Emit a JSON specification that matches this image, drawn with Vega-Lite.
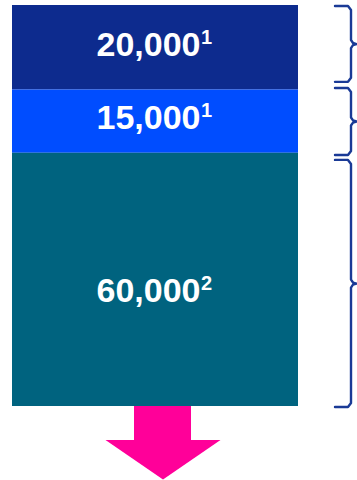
{
  "$schema": "https://vega.github.io/schema/vega-lite/v6.json",
  "width": 357,
  "height": 480,
  "padding": 0,
  "autosize": {"type": "none"},
  "background": "white",
  "config": {"view": {"stroke": null}},
  "datasets": {
    "segments": [
      {"label": "20,000", "note": "1", "part": "a", "start": 75000, "end": 95000, "labelAt": 82900},
      {"label": "15,000", "note": "1", "part": "b", "start": 60000, "end": 75000, "labelAt": 65600},
      {"label": "60,000", "note": "2", "part": "c", "start": 0, "end": 60000, "labelAt": 24600}
    ],
    "braces": [
      {"brace": 1, "i": 1, "x": 335, "y": 94750},
      {"brace": 1, "i": 2, "x": 348, "y": 94750},
      {"brace": 1, "i": 3, "x": 351, "y": 93800},
      {"brace": 1, "i": 4, "x": 351, "y": 86700},
      {"brace": 1, "i": 5, "x": 353, "y": 86000},
      {"brace": 1, "i": 6, "x": 356.5, "y": 85750},
      {"brace": 1, "i": 7, "x": 353, "y": 85500},
      {"brace": 1, "i": 8, "x": 351, "y": 84800},
      {"brace": 1, "i": 9, "x": 351, "y": 77750},
      {"brace": 1, "i": 10, "x": 348, "y": 76800},
      {"brace": 1, "i": 11, "x": 335, "y": 76800},
      {"brace": 2, "i": 1, "x": 335, "y": 75350},
      {"brace": 2, "i": 2, "x": 348, "y": 75350},
      {"brace": 2, "i": 3, "x": 351, "y": 74400},
      {"brace": 2, "i": 4, "x": 351, "y": 68350},
      {"brace": 2, "i": 5, "x": 353, "y": 67650},
      {"brace": 2, "i": 6, "x": 356.5, "y": 67400},
      {"brace": 2, "i": 7, "x": 353, "y": 67150},
      {"brace": 2, "i": 8, "x": 351, "y": 66450},
      {"brace": 2, "i": 9, "x": 351, "y": 60400},
      {"brace": 2, "i": 10, "x": 348, "y": 59450},
      {"brace": 2, "i": 11, "x": 335, "y": 59450},
      {"brace": 3, "i": 1, "x": 335, "y": 58300},
      {"brace": 3, "i": 2, "x": 348, "y": 58300},
      {"brace": 3, "i": 3, "x": 351, "y": 57350},
      {"brace": 3, "i": 4, "x": 351, "y": 29950},
      {"brace": 3, "i": 5, "x": 353, "y": 29250},
      {"brace": 3, "i": 6, "x": 356.5, "y": 29000},
      {"brace": 3, "i": 7, "x": 353, "y": 28750},
      {"brace": 3, "i": 8, "x": 351, "y": 28050},
      {"brace": 3, "i": 9, "x": 351, "y": 700},
      {"brace": 3, "i": 10, "x": 348, "y": -250},
      {"brace": 3, "i": 11, "x": 335, "y": -250}
    ],
    "shaft": [
      {"x0": 134, "x1": 191, "top": 0, "bottom": -8120}
    ],
    "head": [
      {"x": 105.5, "y": -8055, "y2": -8055},
      {"x": 163, "y": -17400, "y2": -8055},
      {"x": 220.5, "y": -8055, "y2": -8055}
    ]
  },
  "layer": [
    {
      "data": {"name": "segments"},
      "mark": {"type": "bar"},
      "encoding": {
        "x": {"datum": 12, "type": "quantitative", "scale": {"domain": [0, 357], "nice": false, "zero": false}, "axis": null},
        "x2": {"datum": 298},
        "y": {"field": "start", "type": "quantitative", "scale": {"domain": [-17531, 96185], "nice": false, "zero": false}, "axis": null},
        "y2": {"field": "end"},
        "color": {"field": "part", "type": "nominal", "scale": {"domain": ["a", "b", "c"], "range": ["#0D2B8E", "#004DFF", "#00637F"]}, "legend": null}
      }
    },
    {
      "data": {"name": "segments"},
      "mark": {"type": "text", "align": "right", "baseline": "alphabetic", "font": "Liberation Sans", "fontWeight": "bold", "fontSize": 34, "color": "white"},
      "encoding": {
        "x": {"datum": 200.5, "type": "quantitative"},
        "y": {"field": "labelAt", "type": "quantitative"},
        "text": {"field": "label"}
      }
    },
    {
      "data": {"name": "segments"},
      "mark": {"type": "text", "align": "left", "baseline": "alphabetic", "dy": -12, "font": "Liberation Sans", "fontWeight": "bold", "fontSize": 20, "color": "white"},
      "encoding": {
        "x": {"datum": 201, "type": "quantitative"},
        "y": {"field": "labelAt", "type": "quantitative"},
        "text": {"field": "note"}
      }
    },
    {
      "data": {"name": "braces"},
      "mark": {"type": "line", "color": "#1A3A96", "strokeWidth": 2.4, "strokeJoin": "round", "strokeCap": "round"},
      "encoding": {
        "x": {"field": "x", "type": "quantitative"},
        "y": {"field": "y", "type": "quantitative"},
        "detail": {"field": "brace", "type": "nominal"},
        "order": {"field": "i", "type": "quantitative"}
      }
    },
    {
      "data": {"name": "shaft"},
      "mark": {"type": "bar", "color": "#FF0099"},
      "encoding": {
        "x": {"field": "x0", "type": "quantitative"},
        "x2": {"field": "x1"},
        "y": {"field": "top", "type": "quantitative"},
        "y2": {"field": "bottom"}
      }
    },
    {
      "data": {"name": "head"},
      "mark": {"type": "area", "color": "#FF0099", "interpolate": "linear"},
      "encoding": {
        "x": {"field": "x", "type": "quantitative"},
        "y": {"field": "y", "type": "quantitative"},
        "y2": {"field": "y2"}
      }
    }
  ]
}
